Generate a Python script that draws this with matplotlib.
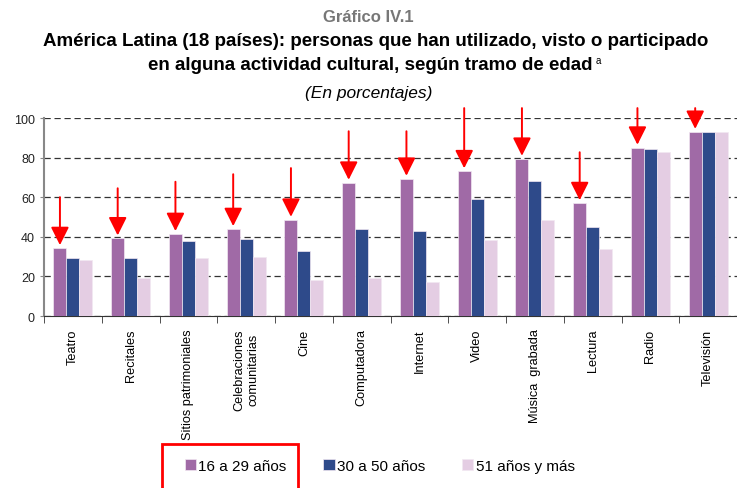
import numpy as np
import matplotlib.pyplot as plt
from matplotlib.patches import Rectangle

plt.rcParams['font.family'] = ['Liberation Sans', 'DejaVu Sans']

categories = ["Teatro", "Recitales", "Sitios patrimoniales", "Celebraciones\ncomunitarias",
              "Cine", "Computadora", "Internet", "Video", "Música  grabada", "Lectura",
              "Radio", "Televisión"]
edad_16_29 = [34.3, 39.2, 41.4, 43.9, 48.6, 67.3, 69.3, 73.1, 79.4, 57.0, 85.0, 93.0]
edad_30_50 = [29.3, 29.1, 37.7, 38.9, 32.8, 44.1, 42.7, 59.3, 68.3, 45.0, 84.2, 93.0]
edad_51_mas = [28.1, 19.0, 29.4, 29.8, 18.2, 19.2, 17.3, 38.5, 48.6, 33.6, 82.6, 92.8]
arrow_start = [60, 64.5, 67.8, 71.6, 74.7, 93.3, 93.3, 105, 105, 82.7, 105, 105]
series_labels = ["16 a 29 años", "30 a 50 años", "51 años y más"]
colors = ["#A06AA6", "#2E4A8A", "#E4CDE3"]

fig = plt.figure(figsize=(7.37, 4.89), dpi=100)
ax = fig.add_axes([44 / 737, (489 - 317) / 489, 1 - 44 / 737, (317 - 119) / 489])

x = np.arange(len(categories))
w = 0.224
for k, vals in enumerate([edad_16_29, edad_30_50, edad_51_mas]):
    ax.bar(x + (k - 1) * w, vals, width=w, color=colors[k], edgecolor="#F2E8F2",
           linewidth=0.5, label=series_labels[k], zorder=3)

# red arrows pointing to the 16-29 bars
for i, (v, s) in enumerate(zip(edad_16_29, arrow_start)):
    ax.annotate("", xy=(x[i] - w, v + 1.5), xytext=(x[i] - w, s),
                arrowprops=dict(arrowstyle="-|>,head_width=0.55,head_length=1.1",
                                color="#FF0000", lw=1.4, shrinkA=0, shrinkB=0),
                annotation_clip=False, zorder=5)

ax.set_xlim(-0.5, 11.45)
ax.set_ylim(0, 100)
ax.set_yticks([0, 20, 40, 60, 80, 100])
ax.yaxis.grid(True, linestyle=(0, (5, 3)), color="#333333", linewidth=0.9, zorder=0)
ax.tick_params(axis="y", labelsize=9, length=3, color="#888888", labelcolor="#222222")

ax.set_xticks(x)
ax.set_xticklabels(categories, rotation=90, fontsize=9.2, va="top", ha="center",
                   multialignment="center")
ax.set_xticks(np.arange(-0.5, 12, 1), minor=True)
ax.tick_params(axis="x", which="major", length=0, pad=9)
ax.tick_params(axis="x", which="minor", length=5, color="#333333")

for side in ["top", "right"]:
    ax.spines[side].set_visible(False)
ax.spines["left"].set_color("#888888")
ax.spines["left"].set_linewidth(1.5)
ax.spines["bottom"].set_color("#333333")

fig.text(0.5, 1 - 17 / 489, "Gráfico IV.1", ha="center", va="center",
         fontsize=12, fontweight="bold", color="#777777")
fig.text(0.5 + 7 / 737, 1 - 42 / 489,
         "América Latina (18 países): personas que han utilizado, visto o participado",
         ha="center", va="center", fontsize=13.5, fontweight="bold")
line2 = fig.text(0.5 + 2 / 737, 1 - 65 / 489, "en alguna actividad cultural, según tramo de edad",
                 ha="center", va="center", fontsize=13.5, fontweight="bold")
fig.canvas.draw()
bb = line2.get_window_extent(renderer=fig.canvas.get_renderer())
fig.text((bb.x1 + 3) / fig.bbox.width, 1 - 61 / 489, "a", fontsize=7, va="center")
fig.text(0.5, 1 - 94 / 489, "(En porcentajes)", ha="center", va="center",
         fontsize=12.5, style="italic")

leg = fig.legend(loc="center", bbox_to_anchor=(0.515, 1 - 467 / 489), ncol=3,
                 frameon=False, fontsize=11, handlelength=0.75, handleheight=0.75,
                 handletextpad=0.15, columnspacing=2.4)

fig.patches.append(Rectangle((162 / 737, -0.05), (298 - 162) / 737, 0.05 + (489 - 445) / 489,
                             transform=fig.transFigure, fill=False, edgecolor="#FF0000",
                             linewidth=2))

fig.savefig("out.png", dpi=100)
